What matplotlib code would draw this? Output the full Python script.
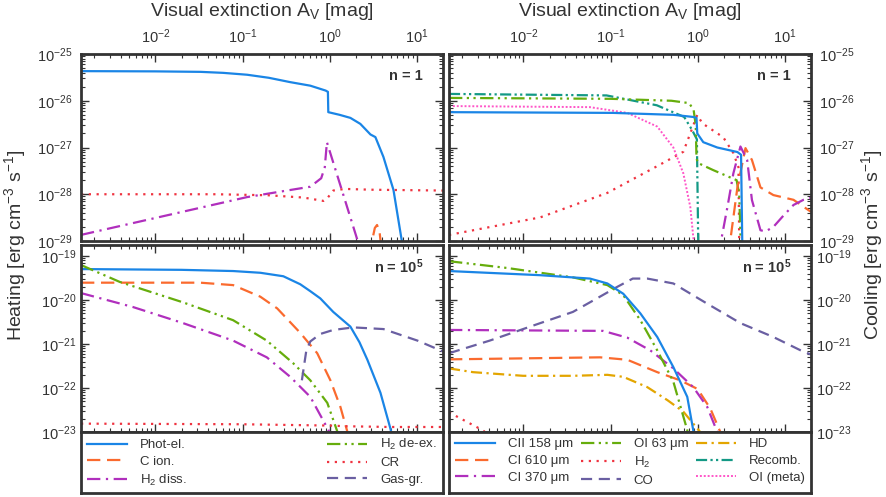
import matplotlib
matplotlib.use('Agg')
import matplotlib.pyplot as plt
from matplotlib.lines import Line2D

plt.rcParams['font.family'] = ['Liberation Sans', 'DejaVu Sans']
plt.rcParams['mathtext.fontset'] = 'custom'
plt.rcParams['mathtext.rm'] = 'Liberation Sans'
plt.rcParams['mathtext.it'] = 'Liberation Sans:italic'
plt.rcParams['mathtext.bf'] = 'Liberation Sans:bold'

# ---- heating, n = 1 ----
phot1_av = [0.0014, 0.01, 0.033, 0.06, 0.113, 0.2, 0.353, 0.6, 0.9, 0.955, 0.965, 1.3, 1.73, 2.25, 2.94, 3.35,
            4.14, 5.4, 6.5, 7.5]
phot1 = [4.3e-26, 4.25e-26, 4.15e-26, 3.95e-26, 3.6e-26, 3.1e-26, 2.5e-26, 2.1e-26, 1.65e-26, 1.55e-26, 5.7e-27,
         5e-27, 4.3e-27, 3.2e-27, 1.9e-27, 1.67e-27, 6.3e-28, 1.24e-28, 1.5e-29, 3e-30]
cion1_av = [2.9, 3.1, 3.3, 3.5, 3.75, 4.0]
cion1 = [5e-30, 1.1e-29, 1.9e-29, 2.2e-29, 1.5e-29, 5e-30]
h2diss1_av = [0.0014, 0.113, 0.6, 0.8, 0.88, 0.93, 2.1, 2.4]
h2diss1 = [1.35e-29, 8.7e-29, 1.45e-28, 2.2e-28, 3.8e-28, 1.3e-27, 1e-29, 4e-30]
cr1_av = [0.0014, 0.05, 0.2, 0.5, 0.85, 0.93, 1.1, 1.5, 3, 20]
cr1 = [1e-28, 1e-28, 9.5e-29, 8.5e-29, 7.2e-29, 8e-29, 1.2e-28, 1.3e-28, 1.25e-28, 1.2e-28]

# ---- heating, n = 1e5 ----
phot5_av = [0.0014, 0.02, 0.078, 0.16, 0.294, 0.46, 0.6, 0.78, 1.10, 1.73, 2.2, 2.71, 3.83, 4.98, 5.5]
phot5 = [5.1e-20, 4.9e-20, 4.6e-20, 4.2e-20, 3.5e-20, 2.3e-20, 1.6e-20, 1.1e-20, 5.4e-21, 2.5e-21, 1.1e-21,
         4.4e-22, 7.8e-23, 1.2e-23, 5e-24]
cion5_av = [0.0014, 0.0327, 0.078, 0.16, 0.25, 0.46, 0.72, 1.02, 1.33, 1.6, 1.7]
cion5 = [2.5e-20, 2.5e-20, 2.2e-20, 1.2e-20, 6.5e-21, 1.8e-21, 6.2e-22, 1.5e-22, 3.7e-23, 1e-23, 5e-24]
h2diss5_av = [0.0014, 0.0055, 0.0208, 0.078, 0.19, 0.353, 0.6, 0.97, 1.1]
h2diss5 = [1.45e-20, 7e-21, 3e-21, 1.2e-21, 5e-22, 1.8e-22, 6.3e-23, 1.1e-23, 5e-24]
h2deex5_av = [0.0014, 0.0039, 0.0208, 0.078, 0.19, 0.38, 0.6, 0.94, 1.23, 1.4]
h2deex5 = [6.3e-20, 2.6e-20, 8.9e-21, 3.5e-21, 1.2e-21, 3.7e-22, 1.5e-22, 4.6e-23, 1e-23, 5e-24]
cr5_av = [0.0014, 0.1, 1.0, 1.6, 5, 20]
cr5 = [1.55e-23, 1.5e-23, 1.4e-23, 1.35e-23, 1.3e-23, 1.3e-23]
gasgr5_av = [0.48, 0.54, 0.6, 0.78, 1.1, 1.87, 4.14, 10.2, 20]
gasgr5 = [1.5e-22, 7.2e-22, 1.15e-21, 1.7e-21, 2.1e-21, 2.4e-21, 2.2e-21, 1.2e-21, 6.8e-22]

# ---- cooling, n = 1 ----
cii1_av = [0.0014, 0.107, 0.526, 0.89, 0.97, 0.99, 1.16, 1.68, 2.86, 3.15, 3.25, 3.3]
cii1 = [5.7e-27, 5.5e-27, 5e-27, 4.5e-27, 4.3e-27, 2.0e-27, 1.3e-27, 1e-27, 8e-28, 7e-28, 1e-29, 5e-30]
ci610_1_av = [2.25, 2.86, 3.54, 4.2, 5.26, 7.4, 12.6, 20]
ci610_1 = [5e-30, 1.4e-28, 9.7e-28, 5.4e-28, 1.4e-28, 9.6e-29, 7.6e-29, 4.2e-29]
ci370_1_av = [1.73, 2.2, 2.57, 3.1, 3.7, 4.2, 5.26, 6.0, 7.4, 9.4, 12.6, 16.4, 20]
ci370_1 = [5e-30, 5.4e-29, 2.8e-28, 1.05e-27, 5.4e-28, 7.5e-29, 1.7e-29, 1.6e-29, 2e-29, 3.3e-29, 5.9e-29,
           7.6e-29, 8.4e-29]
oi63_1_av = [0.0014, 0.1, 0.5, 0.8, 0.9, 0.95, 0.97, 1.0, 1.5, 2.8, 3.0, 3.15]
oi63_1 = [1.15e-26, 1.1e-26, 1e-26, 8.9e-27, 6.3e-27, 3e-27, 6e-28, 4.7e-28, 3.3e-28, 2e-28, 1e-28, 5e-30]
h2cool1_av = [0.0014, 0.0156, 0.092, 0.344, 0.685, 0.99, 1.13, 1.97, 2.57, 2.94, 3.0, 3.05]
h2cool1 = [1.35e-29, 3.2e-29, 1.07e-28, 4e-28, 8.1e-28, 5e-27, 3.3e-27, 1.65e-27, 7.6e-28, 3.8e-28, 1e-29, 5e-30]
recomb1_av = [0.0014, 0.09, 0.34, 0.7, 0.86, 0.98, 1.02]
recomb1 = [1.4e-26, 1.3e-26, 8e-27, 4.5e-27, 2.4e-27, 1.5e-27, 5e-30]
oimeta1_av = [0.0014, 0.058, 0.156, 0.344, 0.526, 0.685, 0.824, 0.9, 0.92]
oimeta1 = [7.7e-27, 7.3e-27, 5.5e-27, 2.8e-27, 1e-27, 2.8e-28, 5.3e-29, 1e-29, 5e-30]

# ---- cooling, n = 1e5 ----
cii5_av = [0.0014, 0.0156, 0.058, 0.092, 0.14, 0.22, 0.344, 0.526, 0.76, 0.89, 0.95]
cii5 = [4.6e-20, 3.7e-20, 3.1e-20, 2.4e-20, 1.4e-20, 5e-21, 1.45e-21, 3e-22, 6.3e-23, 1.1e-23, 5e-24]
ci610_5_av = [0.0014, 0.076, 0.156, 0.344, 0.63, 1.0, 1.4, 1.82, 1.9]
ci610_5 = [4.5e-22, 5e-22, 4.4e-22, 2.3e-22, 1.5e-22, 9.5e-23, 3.4e-23, 1e-23, 5e-24]
ci370_5_av = [0.0014, 0.082, 0.156, 0.286, 0.526, 0.89, 1.29, 1.68, 1.8]
ci370_5 = [2.1e-21, 2e-21, 1.4e-21, 7.2e-22, 2.8e-22, 1.05e-22, 3.7e-23, 1e-23, 5e-24]
oi63_5_av = [0.0014, 0.0065, 0.037, 0.092, 0.14, 0.22, 0.344, 0.526, 0.76, 0.85]
oi63_5 = [7.7e-20, 5.4e-20, 3.3e-20, 2.2e-20, 1.3e-20, 3.5e-21, 7.2e-22, 1.4e-22, 1.1e-23, 4e-24]
h2cool5_av = [0.0014, 0.00225, 0.0034, 0.005]
h2cool5 = [2.8e-23, 1.7e-23, 1.1e-23, 6e-24]
co5_av = [0.0014, 0.0041, 0.0156, 0.037, 0.07, 0.119, 0.18, 0.264, 0.526, 1.29, 3.1, 7.4, 15.9, 20]
co5 = [6.2e-22, 1.2e-21, 3e-21, 5.4e-21, 1.1e-20, 2e-20, 3.1e-20, 3.1e-20, 2.4e-20, 8.3e-21, 3e-21, 1.45e-21,
       6.9e-22, 5.8e-22]
hd5_av = [0.0014, 0.00264, 0.0099, 0.037, 0.092, 0.14, 0.264, 0.45, 0.685, 1.07, 1.2]
hd5 = [2.8e-22, 2.3e-22, 1.9e-22, 1.9e-22, 2e-22, 1.8e-22, 1.05e-22, 5.3e-23, 2.9e-23, 1e-23, 5e-24]

heat_labels = ['Phot-el.', 'C ion.', 'H$_2$ diss.', 'H$_2$ de-ex.', 'CR', 'Gas-gr.']
cool_labels = ['CII 158 \u03bcm', 'CI 610 \u03bcm', 'CI 370 \u03bcm', 'OI 63 \u03bcm', 'H$_2$', 'CO',
               'HD', 'Recomb.', 'OI (meta)']

# styles: colour, dash pattern, linewidth
S_BLUE = dict(color='#1a85e6', ls='-', lw=1.6)
S_ORANGE = dict(color='#fa6a2e', dashes=(6, 3), lw=1.6)
S_MAGENTA = dict(color='#b02fbd', dashes=(6, 2.5, 1, 2.5), lw=1.6)
S_GREEN = dict(color='#66ad0c', dashes=(6, 2, 1, 2, 1, 2), lw=1.6)
S_RED = dict(color='#ef3340', dashes=(1, 2.5), lw=1.6)
S_PURPLE = dict(color='#6a5fa2', dashes=(5, 3), lw=1.6)
S_GOLD = dict(color='#e3a500', dashes=(5, 2, 1, 2), lw=1.6)
S_TEAL = dict(color='#139985', dashes=(5, 1.5, 1, 1.5, 1, 1.5), lw=1.6)
S_PINK = dict(color='#ff55c8', dashes=(1, 1), lw=1.4)

DARK = '#333333'
W, H = 886, 497


def frac(x0, y0, x1, y1):
    return [x0 / W, 1 - y1 / H, (x1 - x0) / W, (y1 - y0) / H]


fig = plt.figure(figsize=(W / 100, H / 100), dpi=100)
ax_h1 = fig.add_axes(frac(81, 54, 443, 241))
ax_h5 = fig.add_axes(frac(81, 245, 443, 432))
ax_c1 = fig.add_axes(frac(449, 54, 811, 241))
ax_c5 = fig.add_axes(frac(449, 245, 811, 432))
leg_h = fig.add_axes(frac(81, 432, 443, 493))
leg_c = fig.add_axes(frac(449, 432, 811, 493))

ax_h1.plot(phot1_av, phot1, **S_BLUE)
ax_h1.plot(cion1_av, cion1, **S_ORANGE)
ax_h1.plot(h2diss1_av, h2diss1, **S_MAGENTA)
ax_h1.plot(cr1_av, cr1, **S_RED)

ax_h5.plot(phot5_av, phot5, **S_BLUE)
ax_h5.plot(cion5_av, cion5, **S_ORANGE)
ax_h5.plot(h2diss5_av, h2diss5, **S_MAGENTA)
ax_h5.plot(h2deex5_av, h2deex5, **S_GREEN)
ax_h5.plot(cr5_av, cr5, **S_RED)
ax_h5.plot(gasgr5_av, gasgr5, **S_PURPLE)

ax_c1.plot(h2cool1_av, h2cool1, **S_RED)
ax_c1.plot(oimeta1_av, oimeta1, **S_PINK)
ax_c1.plot(recomb1_av, recomb1, **S_TEAL)
ax_c1.plot(oi63_1_av, oi63_1, **S_GREEN)
ax_c1.plot(ci610_1_av, ci610_1, **S_ORANGE)
ax_c1.plot(ci370_1_av, ci370_1, **S_MAGENTA)
ax_c1.plot(cii1_av, cii1, **S_BLUE)

ax_c5.plot(h2cool5_av, h2cool5, **S_RED)
ax_c5.plot(hd5_av, hd5, **S_GOLD)
ax_c5.plot(ci610_5_av, ci610_5, **S_ORANGE)
ax_c5.plot(ci370_5_av, ci370_5, **S_MAGENTA)
ax_c5.plot(co5_av, co5, **S_PURPLE)
ax_c5.plot(oi63_5_av, oi63_5, **S_GREEN)
ax_c5.plot(cii5_av, cii5, **S_BLUE)

for ax in (ax_h1, ax_h5, ax_c1, ax_c5):
    ax.set_xscale('log')
    ax.set_yscale('log')
    ax.set_xlim(0.0014, 20)
    ax.tick_params(which='both', direction='in', top=True, right=True, bottom=True, left=True,
                   color=DARK, labelcolor=DARK, labelsize=10.5, labelbottom=False)
    ax.tick_params(which='major', length=6, width=1)
    ax.tick_params(which='minor', length=3, width=0.8)
    for s in ax.spines.values():
        s.set_linewidth(2)
        s.set_color(DARK)

for ax in (ax_h1, ax_c1):
    ax.set_ylim(1e-29, 1e-25)
    ax.tick_params(labeltop=True, pad=6)
    ax.xaxis.set_label_position('top')
    ax.set_xlabel('Visual extinction A$_\\mathregular{V}$ [mag]', fontsize=14, color=DARK, labelpad=8)
    ax.text(0.945, 0.885, 'n = 1', transform=ax.transAxes, ha='right', va='center',
            fontsize=10.5, fontweight='bold', color=DARK)
for ax in (ax_h5, ax_c5):
    ax.set_ylim(1e-23, 1.8e-19)
    ax.text(0.945, 0.885, 'n = 10$^\\mathbf{5}$', transform=ax.transAxes, ha='right', va='center',
            fontsize=10.5, fontweight='bold', color=DARK)
for ax in (ax_c1, ax_c5):
    ax.tick_params(labelleft=False, labelright=True)

fig.text(15 / W, 1 - 245 / H, 'Heating [erg cm$^{-3}$ s$^{-1}$]', rotation=90, ha='center', va='center',
         fontsize=14, color=DARK)
fig.text(872 / W, 1 - 245 / H, 'Cooling [erg cm$^{-3}$ s$^{-1}$]', rotation=90, ha='center', va='center',
         fontsize=14, color=DARK)

heat_styles = [S_BLUE, S_ORANGE, S_MAGENTA, S_GREEN, S_RED, S_PURPLE]
cool_styles = [S_BLUE, S_ORANGE, S_MAGENTA, S_GREEN, S_RED, S_PURPLE, S_GOLD, S_TEAL, S_PINK]

for lax, labels, styles, ncol in ((leg_h, heat_labels, heat_styles, 2), (leg_c, cool_labels, cool_styles, 3)):
    lax.set_xticks([])
    lax.set_yticks([])
    for s in lax.spines.values():
        s.set_linewidth(2)
        s.set_color(DARK)
    handles = [Line2D([], [], **st) for st in styles]
    leg = lax.legend(handles, labels, loc='center', bbox_to_anchor=(0.01, 0, 0.98, 1), mode='expand',
                     ncol=ncol, frameon=False, fontsize=9.5, handlelength=3, handletextpad=1.0,
                     labelspacing=0.35, borderaxespad=0, borderpad=0.2)
    for t in leg.get_texts():
        t.set_color(DARK)

fig.savefig('out.png', dpi=100)
